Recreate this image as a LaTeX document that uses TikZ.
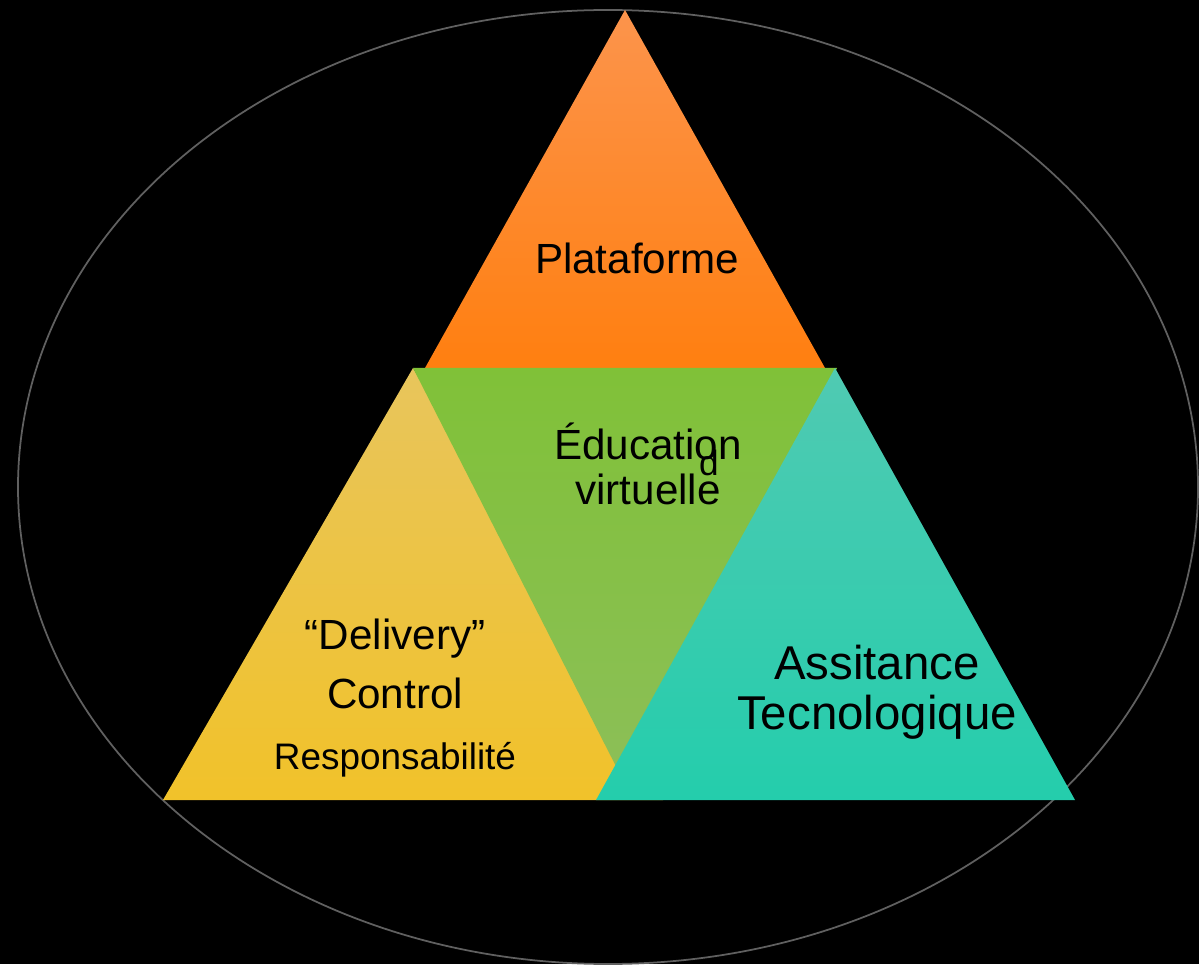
\documentclass[tikz,border=0pt]{standalone}
\definecolor{plat_top}{RGB}{252, 148, 76}
\definecolor{plat_bot}{RGB}{255, 127, 16}
\definecolor{edu_top}{RGB}{128, 193, 56}
\definecolor{edu_bot}{RGB}{140, 191, 88}
\definecolor{deliv_top}{RGB}{232, 197, 92}
\definecolor{deliv_bot}{RGB}{241, 194, 42}
\definecolor{assist_top}{RGB}{80, 202, 178}
\definecolor{assist_bot}{RGB}{36, 205, 172}
\definecolor{ring_gray}{RGB}{96, 96, 96}
\usepackage{fontspec}
\setmainfont{Liberation Sans}
\usepackage{tikz}
\usetikzlibrary{positioning, calc}

\begin{document}
\begin{tikzpicture}[font=\fontsize{12}{14}\selectfont,
    tri/.style={shading=axis, shading angle=0},
    lbl/.style={align=center, inner sep=0pt, text=black}]
      \fill[black] (0,0) rectangle (11.99,9.64);
      \useasboundingbox (0,0) rectangle (11.99,9.64);
      \draw[ring_gray, line width=0.5pt] (6.08,4.77) ellipse [x radius=5.9cm, y radius=4.77cm];

      % triangles
      \coordinate (plat_apex) at (6.25,9.54);
      \coordinate (plat_l) at (4.25,5.96);
      \coordinate (plat_r) at (8.25,5.96);
      \coordinate (deliv_apex) at (4.13,5.96);
      \coordinate (deliv_l) at (1.63,1.64);
      \coordinate (deliv_r) at (6.63,1.64);
      \coordinate (edu_l) at (4.13,5.96);
      \coordinate (edu_r) at (8.37,5.96);
      \coordinate (edu_apex) at (6.25,1.80);
      \coordinate (assist_apex) at (8.35,5.96);
      \coordinate (assist_l) at (5.96,1.64);
      \coordinate (assist_r) at (10.75,1.64);

      \shade[tri, top color=plat_top, bottom color=plat_bot] (plat_apex) -- (plat_r) -- (plat_l) -- cycle;
      \shade[tri, top color=deliv_top, bottom color=deliv_bot] (deliv_apex) -- (deliv_r) -- (deliv_l) -- cycle;
      \shade[tri, top color=edu_top, bottom color=edu_bot] (edu_l) -- (edu_r) -- (edu_apex) -- cycle;
      \shade[tri, top color=assist_top, bottom color=assist_bot] (assist_apex) -- (assist_r) -- (assist_l) -- cycle;

      % labels
      \node[lbl] (plat) at (6.37,7.06) {Plataforme};
      \node[lbl, font=\fontsize{12}{12.8}\selectfont] (edu) at (6.48,5.00) {Éducation\\virtuelle};
      \node[lbl, font=\fontsize{10}{12}\selectfont] (stray) at (7.09,5.01) {d};
      \node[lbl, font=\fontsize{12}{17}\selectfont] (deliv) at (3.95,3.00) {“Delivery”\\Control};
      \node[lbl, font=\fontsize{10.5}{12}\selectfont, below=0.32 of deliv] (resp) {Responsabilité};
      \node[lbl, font=\fontsize{13.5}{14.2}\selectfont] (assist) at (8.77,2.72) {Assitance\\Tecnologique};
    \end{tikzpicture}
\end{document}
